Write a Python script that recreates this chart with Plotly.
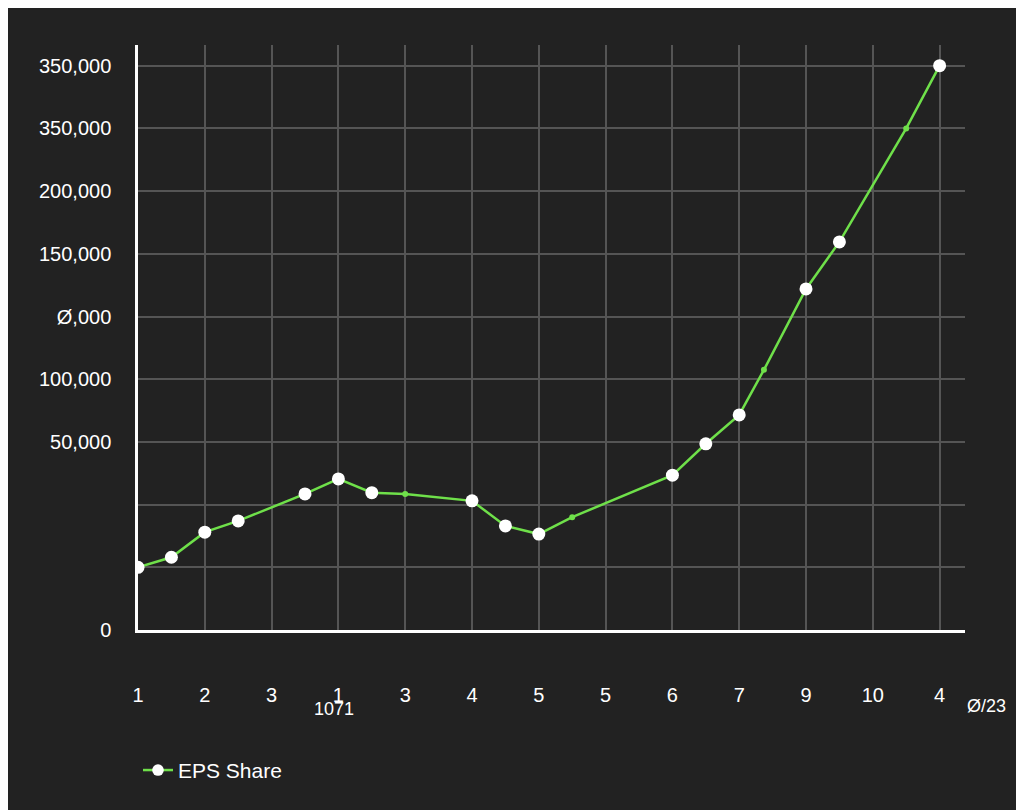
import plotly.graph_objects as go

x_pos = [0, 0.5, 1, 1.5, 2.5, 3, 3.5, 4, 5, 5.5, 6, 6.5, 8, 8.5, 9, 9.37, 10, 10.5, 11.5, 12]
eps = [1.0, 1.16, 1.56, 1.74, 2.17, 2.41, 2.19, 2.17, 2.06, 1.66, 1.53, 1.80, 2.47, 2.97, 3.43, 4.15, 5.44, 6.19, 8.0, 9.0]
small = [0, 0, 0, 0, 0, 0, 0, 1, 0, 0, 0, 1, 0, 0, 0, 1, 0, 0, 1, 0]
x_ticks = list(range(13))
x_labels = ["1", "2", "3", "1", "3", "4", "5", "5", "6", "7", "9", "10", "4"]
y_ticks = list(range(10))
y_labels = ["0", "", "", "50,000", "100,000", "Ø,000", "150,000", "200,000", "350,000", "350,000"]

green = "#6fe04a"
fig = go.Figure()
fig.add_trace(go.Scatter(
    x=x_pos, y=eps, mode="lines+markers", name="EPS Share",
    line=dict(color=green, width=2.5),
    marker=dict(size=[6 if s else 13 for s in small],
                color=[green if s else "white" for s in small],
                opacity=1, line=dict(width=0))))
fig.update_layout(
    width=1024, height=810, paper_bgcolor="#222222", plot_bgcolor="#222222",
    margin=dict(l=130, r=67, t=37, b=188),
    font=dict(family="Liberation Sans, Arial", color="white", size=20),
    showlegend=True,
    legend=dict(orientation="h", x=0.0, y=-0.24, yanchor="middle", xanchor="left",
                font=dict(size=21, color="white"), bgcolor="rgba(0,0,0,0)"),
    xaxis=dict(range=[0, 12.38], tickvals=x_ticks, ticktext=x_labels,
               showgrid=True, gridcolor="#555555", gridwidth=1.5,
               showline=True, linecolor="white", linewidth=2.5, zeroline=False,
               ticks="", ticklabelstandoff=45, tickfont=dict(size=20)),
    yaxis=dict(range=[0, 9.33], tickvals=y_ticks, ticktext=y_labels,
               showgrid=True, gridcolor="#555555", gridwidth=1.5,
               showline=True, linecolor="white", linewidth=2.5, zeroline=False,
               ticks="", ticklabelstandoff=20, tickfont=dict(size=20)),
    annotations=[
        dict(text="1071", x=0.21, y=-0.155, xref="paper", yref="paper", showarrow=False, font=dict(size=18)),
        dict(text="Ø/23", x=1.0, y=-0.15, xref="paper", yref="paper", xanchor="left", showarrow=False, font=dict(size=18)),
    ])
fig.write_html("out.html")
